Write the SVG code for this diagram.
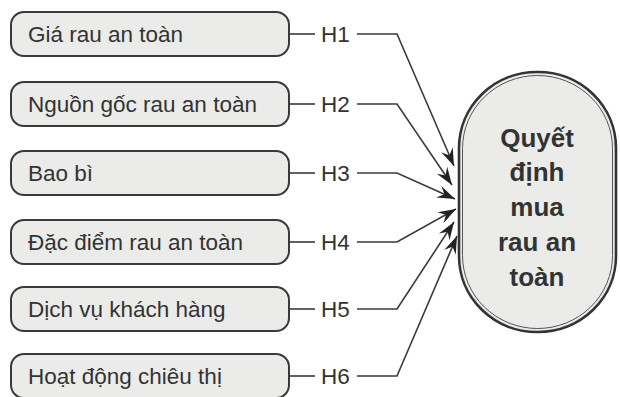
<svg xmlns="http://www.w3.org/2000/svg" width="620" height="397" viewBox="0 0 620 397">
<style>
.box{fill:#ebecea;stroke:#3a3a3a;stroke-width:2}
.lbl{font-family:"Liberation Sans",Arial,sans-serif;font-size:22.5px;fill:#333}
.h{font-family:"Liberation Sans",Arial,sans-serif;font-size:22.5px;fill:#333}
.ln{fill:none;stroke:#3a3a3a;stroke-width:1.6}
.ct{font-family:"Liberation Sans",Arial,sans-serif;font-size:26px;font-weight:bold;fill:#333;text-anchor:middle}
</style>
<defs>
<marker id="ah" markerUnits="userSpaceOnUse" markerWidth="22" markerHeight="22" viewBox="-19 -9 21 18" refX="0" refY="0" orient="auto">
<path d="M0,0 L-17,-6 L-11,0 L-17,6 Z" fill="#222"/>
</marker>
</defs>
<rect width="620" height="397" fill="#ffffff"/>
<g id="n1"><rect class="box" x="11" y="12" width="278" height="44" rx="13"/><text class="lbl" x="28" y="42">Giá rau an toàn</text></g>
<g id="n2"><rect class="box" x="11" y="82" width="278" height="44" rx="13"/><text class="lbl" x="28" y="112">Nguồn gốc rau an toàn</text></g>
<g id="n3"><rect class="box" x="11" y="151" width="278" height="44" rx="13"/><text class="lbl" x="28" y="181">Bao bì</text></g>
<g id="n4"><rect class="box" x="11" y="220" width="278" height="44" rx="13"/><text class="lbl" x="28" y="250">Đặc điểm rau an toàn</text></g>
<g id="n5"><rect class="box" x="11" y="287" width="278" height="44" rx="13"/><text class="lbl" x="28" y="317">Dịch vụ khách hàng</text></g>
<g id="n6"><rect class="box" x="11" y="354" width="278" height="44" rx="13"/><text class="lbl" x="28" y="384">Hoạt động chiêu thị</text></g>
<g id="target">
<rect x="459" y="72" width="157" height="260" rx="78" ry="76" fill="#ebecea" stroke="#333" stroke-width="2.6"/>
<rect x="462.5" y="75.5" width="150" height="253" rx="75" ry="73" fill="none" stroke="#555" stroke-width="1"/>
<text class="ct" x="537" y="147">Quyết</text>
<text class="ct" x="537" y="181">định</text>
<text class="ct" x="537" y="216">mua</text>
<text class="ct" x="537" y="251">rau an</text>
<text class="ct" x="537" y="286">toàn</text>
</g>
<g id="connectors">
<line class="ln" x1="289" y1="34" x2="315" y2="34"/>
<line class="ln" x1="289" y1="104" x2="315" y2="104"/>
<line class="ln" x1="289" y1="173" x2="315" y2="173"/>
<line class="ln" x1="289" y1="242" x2="315" y2="242"/>
<line class="ln" x1="289" y1="309" x2="315" y2="309"/>
<line class="ln" x1="289" y1="376" x2="315" y2="376"/>
<polyline class="ln" points="357,34 397,34 454,166" marker-end="url(#ah)"/>
<polyline class="ln" points="357,104 397,104 452,185" marker-end="url(#ah)"/>
<polyline class="ln" points="357,173 397,173 455,199" marker-end="url(#ah)"/>
<polyline class="ln" points="357,242 397,242 456,209" marker-end="url(#ah)"/>
<polyline class="ln" points="357,309 397,309 454,222" marker-end="url(#ah)"/>
<polyline class="ln" points="357,376 397,376 457,236" marker-end="url(#ah)"/>
<text class="h" x="321" y="42">H1</text>
<text class="h" x="321" y="112">H2</text>
<text class="h" x="321" y="181">H3</text>
<text class="h" x="321" y="250">H4</text>
<text class="h" x="321" y="317">H5</text>
<text class="h" x="321" y="384">H6</text>
</g>
</svg>
